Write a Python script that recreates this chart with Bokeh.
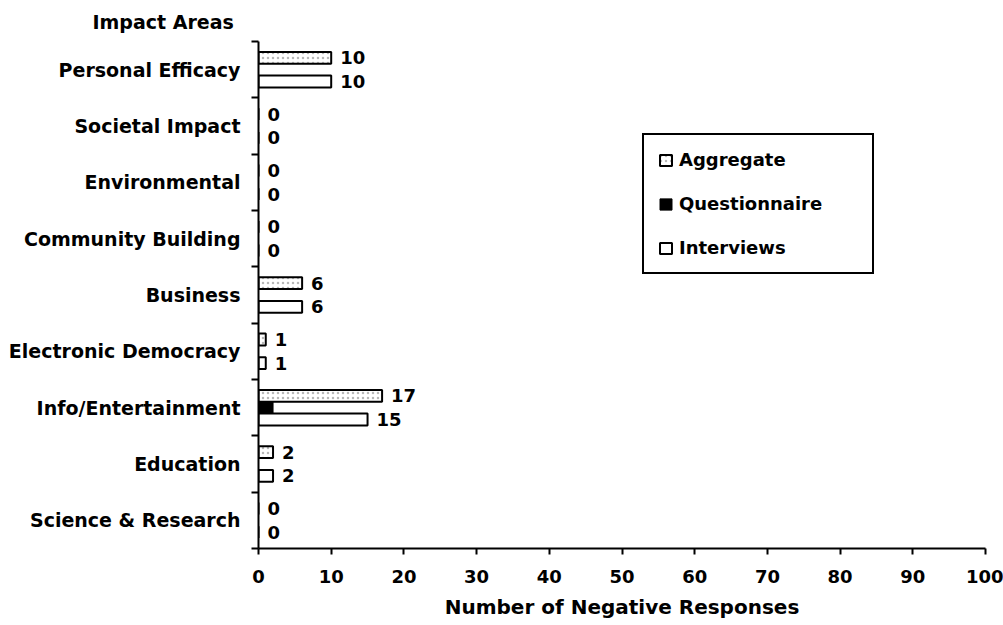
from bokeh.plotting import figure
from bokeh.models import (FixedTicker, Legend, LegendItem, ColumnDataSource, Range1d)
from bokeh.transform import dodge
from bokeh.core.properties import value
from bokeh.embed import file_html
from bokeh.resources import INLINE

categories = ["Personal Efficacy", "Societal Impact", "Environmental",
              "Community Building", "Business", "Electronic Democracy",
              "Info/Entertainment", "Education", "Science & Research"]
aggregate = [10, 0, 0, 0, 6, 1, 17, 2, 0]
questionnaire = [0, 0, 0, 0, 0, 0, 2, 0, 0]
interviews = [10, 0, 0, 0, 6, 1, 15, 2, 0]
x_ticks = [0, 10, 20, 30, 40, 50, 60, 70, 80, 90, 100]

FONT = "DejaVu Sans"
n = len(categories)
pos = [n - 1 - i + 0.5 for i in range(n)]
src = ColumnDataSource(dict(
    cat=categories, pos=pos, agg=aggregate, que=questionnaire, itv=interviews,
    agg_lbl=[str(v) for v in aggregate], itv_lbl=[str(v) for v in interviews]))

p = figure(width=1003, height=625, x_range=Range1d(0, 100), y_range=Range1d(0, n),
           output_backend="svg", toolbar_location=None,
           min_border_left=258, min_border_right=18, min_border_top=41,
           min_border_bottom=77)
p.outline_line_color = None
p.grid.visible = False
p.background_fill_color = "white"
p.border_fill_color = "white"

# heading "Impact Areas"
p.title.text = "Impact Areas"
p.title.align = "left"
p.title.offset = -166
p.title.standoff = 14
p.title.vertical_align = "top"
p.title.text_font = FONT
p.title.text_font_style = 'bold'
p.title.text_font_size = '19px'
p.title.text_color = 'black'

bh = 0.21
agg_r = p.hbar(y=dodge('pos', bh), left=0, right='agg', height=bh, source=src,
               fill_color='white', line_color='black', line_width=2,
               hatch_pattern='dot', hatch_color='#b8b8b8', hatch_scale=5,
               hatch_weight=1)
que_r = p.hbar(y='pos', left=0, right='que', height=bh, source=src,
               fill_color='black', line_color='black', line_width=1)
itv_r = p.hbar(y=dodge('pos', -bh), left=0, right='itv', height=bh, source=src,
               fill_color='white', line_color='black', line_width=2)

lbl_kw = dict(x_offset=9, text_baseline='middle', text_font=value(FONT),
              text_font_style='bold', text_font_size='18px', text_color='black',
              source=src)
p.text(x='agg', y=dodge('pos', bh), text='agg_lbl', **lbl_kw)
p.text(x='itv', y=dodge('pos', -bh), text='itv_lbl', **lbl_kw)

# y axis
ya = p.yaxis[0]
ya.ticker = FixedTicker(ticks=pos, minor_ticks=list(range(n + 1)))
ya.major_label_overrides = {pp: c for pp, c in zip(pos, categories)}
ya.major_tick_out = 0
ya.major_tick_in = 0
ya.minor_tick_out = 7
ya.minor_tick_in = 0
ya.minor_tick_line_color = 'black'
ya.minor_tick_line_width = 2
ya.axis_line_width = 2
ya.axis_line_color = 'black'
ya.major_label_standoff = 11
ya.major_label_text_font = FONT
ya.major_label_text_font_style = 'bold'
ya.major_label_text_font_size = '19px'
ya.major_label_text_color = 'black'

# x axis
xa = p.xaxis[0]
xa.ticker = FixedTicker(ticks=x_ticks)
xa.major_tick_out = 6
xa.major_tick_in = 0
xa.major_tick_line_width = 2
xa.major_tick_line_color = 'black'
xa.minor_tick_line_color = None
xa.axis_line_width = 2
xa.axis_line_color = 'black'
xa.major_label_standoff = 15
xa.major_label_text_font = FONT
xa.major_label_text_font_style = 'bold'
xa.major_label_text_font_size = '18px'
xa.major_label_text_color = 'black'
xa.axis_label = "Number of Negative Responses"
xa.axis_label_text_font = FONT
xa.axis_label_text_font_style = 'bold'
xa.axis_label_text_font_size = '20px'
xa.axis_label_text_color = 'black'
xa.axis_label_standoff = 9

legend = Legend(items=[LegendItem(label="Aggregate", renderers=[agg_r]),
                       LegendItem(label="Questionnaire", renderers=[que_r]),
                       LegendItem(label="Interviews", renderers=[itv_r])],
                location=(384, 274), padding=14, spacing=23,
                label_height=20, label_width=179, glyph_width=15, glyph_height=14,
                label_standoff=6, border_line_color='black', border_line_width=2,
                border_line_alpha=1, background_fill_alpha=1, label_text_font=FONT,
                label_text_font_style='bold', label_text_font_size='18px',
                label_text_color='black', margin=0)
p.add_layout(legend)

open("out.html", "w").write(file_html(p, INLINE))
